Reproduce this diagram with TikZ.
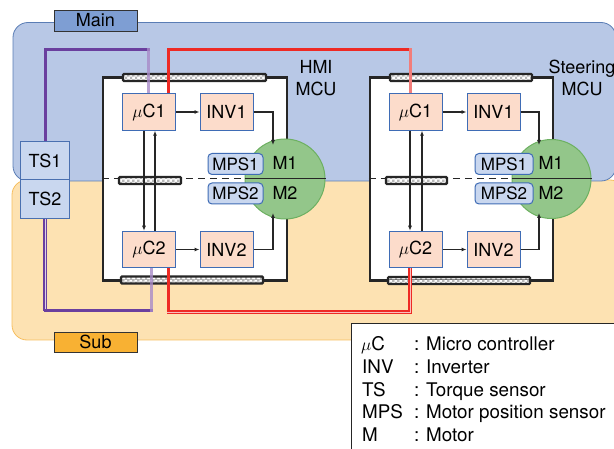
\documentclass[tikz,border=0pt]{standalone}
\usepackage{fontspec}
\setmainfont{TeX Gyre Heros}
\usetikzlibrary{patterns,arrows.meta,calc}
\definecolor{blueReg}{HTML}{B8C8E6}
\definecolor{blueDraw}{HTML}{5A7DB5}
\definecolor{orangeReg}{HTML}{FDE2B2}
\definecolor{orangeDraw}{HTML}{F6BE5E}
\definecolor{mainLbl}{HTML}{7E9ED3}
\definecolor{subLbl}{HTML}{F8B133}
\definecolor{tsFill}{HTML}{C9D7EF}
\definecolor{tsDraw}{HTML}{4A70B0}
\definecolor{ucFill}{HTML}{FCDCCB}
\definecolor{ucDraw}{HTML}{3F6CB5}
\definecolor{motFill}{HTML}{93C68A}
\definecolor{motDraw}{HTML}{6DB061}
\definecolor{purpleC}{HTML}{6A3F9E}
\definecolor{purpleL}{HTML}{A88BC9}
\definecolor{redC}{HTML}{EE2A24}
\definecolor{redL}{HTML}{F27D7A}
\pgfdeclarepatterninherentlycolored{mychecker}{\pgfpointorigin}{\pgfpoint{5pt}{5pt}}{\pgfpoint{5pt}{5pt}}{%
  \pgfsetfillcolor{white}%
  \pgfpathrectangle{\pgfpointorigin}{\pgfpoint{5pt}{5pt}}%
  \pgfusepath{fill}%
  \pgfsetfillcolor{black!28}%
  \pgfpathrectangle{\pgfpointorigin}{\pgfpoint{2.5pt}{2.5pt}}%
  \pgfpathrectangle{\pgfpoint{2.5pt}{2.5pt}}{\pgfpoint{2.5pt}{2.5pt}}%
  \pgfusepath{fill}%
}
\begin{document}
\begin{tikzpicture}[x=1pt,y=-1pt, font=\fontsize{18}{22}\selectfont,
  region/.style={rounded corners=15pt, line width=0.8pt},
  lbl/.style={draw=black!80, line width=0.9pt, minimum width=83pt, minimum height=21pt, inner sep=0pt},
  tsbox/.style={draw=tsDraw, fill=tsFill, line width=1pt, minimum width=49pt, minimum height=38.5pt, inner sep=0pt},
  ucbox/.style={draw=ucDraw, fill=ucFill, line width=1pt, minimum width=53pt, minimum height=36.5pt, inner sep=0pt},
  mpsbox/.style={draw=ucDraw, fill=tsFill, line width=1pt, rounded corners=4pt, minimum height=21pt, inner sep=0pt, font=\fontsize{17}{19}\selectfont},
  mcubox/.style={draw=black!85, fill=white, line width=2.4pt, minimum height=203pt, inner sep=0pt},
  barbox/.style={draw=black!85, line width=2.2pt, rounded corners=1pt, pattern=mychecker, inner sep=0pt, minimum height=7pt},
  motor/.style={circle, draw=motDraw, fill=motFill, line width=1pt, inner sep=0pt},
  arr/.style={-{Latex[length=5pt,width=4pt]}, line width=1.1pt, draw=black!85},
  pline/.style={draw=purpleC, line width=3pt, line cap=rect},
  plight/.style={draw=purpleL, line width=3pt, line cap=rect},
  pdouble/.style={draw=purpleC, line width=1.2pt, double=purpleL!40, double distance=0.8pt},
  rline/.style={draw=redC, line width=3pt, line cap=rect},
  rlight/.style={draw=redL, line width=3pt, line cap=rect},
  rdouble/.style={draw=redC, line width=1.2pt, double=redL!50, double distance=0.8pt},
  divline/.style={draw=black!85, line width=1pt},
  txt/.style={inner sep=0pt, anchor=base west},
  leg/.style={inner sep=0pt, anchor=base west, font=\fontsize{18.8}{22}\selectfont}
]
\useasboundingbox (0,0) rectangle (614,449);
% regions
\draw[region, fill=orangeReg, draw=orangeDraw] (12,180) rectangle (625,340);
\draw[region, fill=blueReg, draw=blueDraw] (13,22.5) rectangle (616,181);
\node[lbl, fill=mainLbl] (mainlbl) at (95.5,20.5) {Main};
\node[lbl, fill=subLbl, minimum height=20pt] (sublbl) at (95.5,342) {Sub};
% MCU boxes
\node[mcubox, minimum width=184pt] (mcuL) at (195,179) {};
\node[mcubox, minimum width=183pt] (mcuR) at (461.5,179) {};
% motors
\node[motor, minimum size=80pt] (motL) at (285,179) {};
\node[motor, minimum size=79pt] (motR) at (551.5,179) {};
\draw[divline, dash pattern=on 7pt off 5pt] (mcuL.west) -- (motL.west);
\draw[divline] (motL.west) -- (motL.east);
\draw[divline, dash pattern=on 7pt off 5pt] (mcuR.west) -- (motR.west);
\draw[divline] (motR.west) -- (motR.east);
% bars
\node[barbox, minimum width=143pt] (btL) at (194.5,77.5) {};
\node[barbox, minimum width=142pt] (bbL) at (192,280) {};
\node[barbox, minimum width=62pt] (bmL) at (150,180.5) {};
\node[barbox, minimum width=142pt] (btR) at (461,77.5) {};
\node[barbox, minimum width=142pt] (bbR) at (459,280.5) {};
\node[barbox, minimum width=61pt] (bmR) at (416.5,180.5) {};
% sensors
\node[tsbox] (ts1) at (45,160.5) {TS1};
\node[tsbox] (ts2) at (45,199) {TS2};
% controller and inverter boxes
\node[ucbox] (uc1L) at (149,112) {$\mu$C1};
\node[ucbox] (inv1L) at (226.5,112) {INV1};
\node[ucbox] (uc2L) at (149,249.5) {$\mu$C2};
\node[ucbox] (inv2L) at (226.5,249.5) {INV2};
\node[ucbox] (uc1R) at (415.5,112) {$\mu$C1};
\node[ucbox] (inv1R) at (493.5,112) {INV1};
\node[ucbox] (uc2R) at (415.5,249.5) {$\mu$C2};
\node[ucbox] (inv2R) at (493.5,249.5) {INV2};
% communication lines
\coordinate (ptop) at (148,50);
\coordinate (rtl) at (168,50);
\coordinate (rtr) at (410,50);
\coordinate (pbot) at (151,311);
\coordinate (rbl) at (168,312);
\coordinate (rbr) at (410,312);
\draw[pline] (ts1.north) |- (ptop);
\draw[plight, opacity=0.8] (ptop) -- (ptop |- uc1L.north);
\draw[rline] (rtl |- uc1L.north) -- (rtl) -- (rtr);
\draw[rlight] (rtr) -- (rtr |- uc1R.north);
\draw[pdouble] (ts2.south) -- (ts2.south |- pbot);
\draw[pline] (ts2.south |- pbot) -- (pbot);
\draw[plight, opacity=0.8] (pbot) -- (pbot |- uc2L.south);
\draw[rline] (rbl |- uc2L.south) -- (rbl);
\draw[rdouble] ([xshift=-1.5pt]rbl) -- (rbr) -- (rbr |- uc2R.south);
% boxes redrawn on top of the line ends
\node[ucbox] at (uc1L) {$\mu$C1};
\node[ucbox] at (uc2L) {$\mu$C2};
\node[ucbox] at (uc1R) {$\mu$C1};
\node[ucbox] at (uc2R) {$\mu$C2};
\node[tsbox] at (ts1) {TS1};
\node[tsbox] at (ts2) {TS2};
% arrows
\coordinate (aL1) at (273,145);
\coordinate (aL2) at (273,213);
\coordinate (aR1) at (539,145);
\coordinate (aR2) at (539,213);
\draw[arr] (uc1L) -- (inv1L);
\draw[arr] (uc2L) -- (inv2L);
\draw[arr] (inv1L.east) -| (aL1);
\draw[arr] (inv2L.east) -| (aL2);
\draw[arr] ([xshift=-5pt]uc1L.south) -- ([xshift=-5pt]uc2L.north);
\draw[arr] ([xshift=6pt]uc2L.north) -- ([xshift=6pt]uc1L.south);
\draw[arr] (uc1R) -- (inv1R);
\draw[arr] (uc2R) -- (inv2R);
\draw[arr] (inv1R.east) -| (aR1);
\draw[arr] (inv2R.east) -| (aR2);
\draw[arr] ([xshift=-5.5pt]uc1R.south) -- ([xshift=-5.5pt]uc2R.north);
\draw[arr] ([xshift=6.5pt]uc2R.north) -- ([xshift=6.5pt]uc1R.south);
% MPS and motor labels
\node[mpsbox, minimum width=55pt] (mps1L) at (235.5,164) {MPS1};
\node[mpsbox, minimum width=55pt] (mps2L) at (235.5,193.5) {MPS2};
\node[mpsbox, minimum width=58pt] (mps1R) at (504,164) {MPS1};
\node[mpsbox, minimum width=58pt] (mps2R) at (504,193.5) {MPS2};
\node (m1L) at (285,163) {M1};
\node (m2L) at (285,193) {M2};
\node (m1R) at (551,163) {M1};
\node (m2R) at (551,193) {M2};
% unit names
\node[align=center] (hmi) at (316,78) {HMI\\MCU};
\node[align=center] (steer) at (582,78) {Steering\\MCU};
% legend
\node[draw=black!85, line width=0.9pt, fill=white, minimum width=280pt, minimum height=140pt, inner sep=0pt, anchor=north west] (legend) at (351,323) {};
\node[leg] (k1) at (361,351) {$\mu$C};
\node[leg] (k2) at (362,374) {INV};
\node[leg] (k3) at (362,396.5) {TS};
\node[leg] (k4) at (362,419) {MPS};
\node[leg] (k5) at (362,442) {M};
\node[leg] (c1) at (414,351) {:};
\node[leg] (c2) at (414,374) {:};
\node[leg] (c3) at (414,396.5) {:};
\node[leg] (c4) at (414,419) {:};
\node[leg] (c5) at (414,442) {:};
\node[leg] (d1) at (426,351) {Micro controller};
\node[leg] (d2) at (426,374) {Inverter};
\node[leg] (d3) at (426,396.5) {Torque sensor};
\node[leg] (d4) at (426,419) {Motor position sensor};
\node[leg] (d5) at (426,442) {Motor};
\end{tikzpicture}
\end{document}
